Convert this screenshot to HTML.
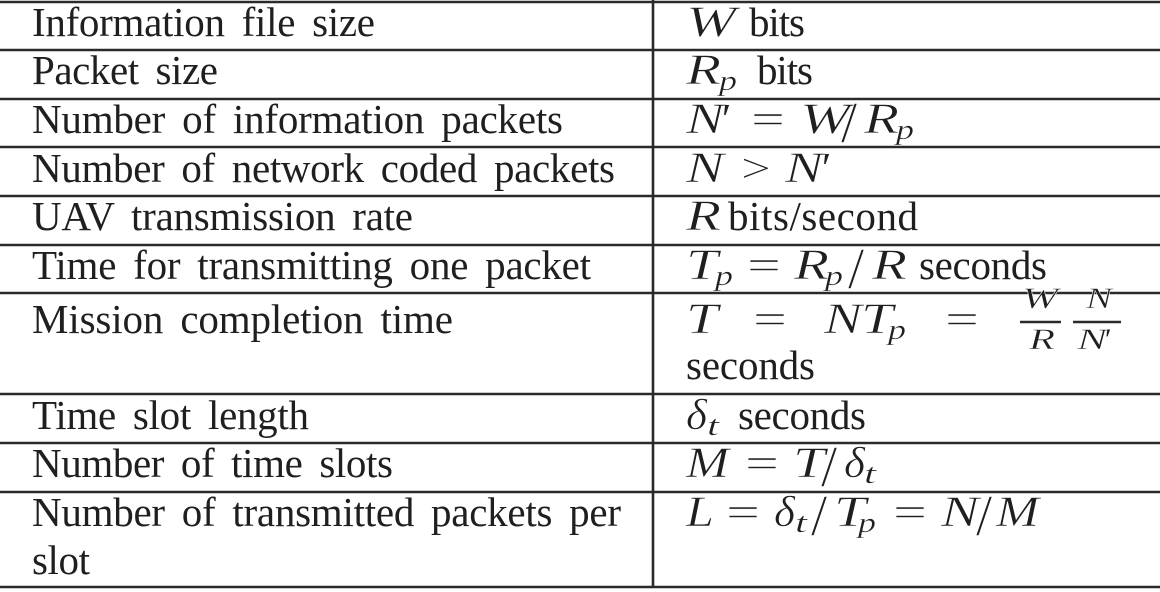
<!DOCTYPE html>
<html lang="en">
<head>
<meta charset="utf-8">
<title>Notation table</title>
<style>
html,body{margin:0;padding:0;background:#fff;width:1160px;height:592px;overflow:hidden}
svg{display:block}
text{font-family:"Liberation Serif",serif;font-size:41px;fill:#1f1f1f;word-spacing:7px}
.m{font-style:italic;font-size:43px;stroke:#fff;stroke-width:.55px}
.s{font-style:italic;font-size:29px;stroke:#fff;stroke-width:.35px}
.f{font-style:italic;font-size:30px;stroke:#fff;stroke-width:.4px}
.o{font-size:41px;stroke:#fff;stroke-width:.5px}
.sl{font-size:58px;stroke:#fff;stroke-width:.6px}
.pr{font-size:42px}
.prs{font-size:30px}
line{stroke:#2a2a2a;stroke-width:2.6}
</style>
</head>
<body>
<svg width="1160" height="592" viewBox="0 0 1160 592">
<g>
<line x1="0" x2="1160" y1="2" y2="2"/>
<line x1="0" x2="1160" y1="50" y2="50"/>
<line x1="0" x2="1160" y1="99" y2="99"/>
<line x1="0" x2="1160" y1="147" y2="147"/>
<line x1="0" x2="1160" y1="196" y2="196"/>
<line x1="0" x2="1160" y1="245" y2="245"/>
<line x1="0" x2="1160" y1="293" y2="293"/>
<line x1="0" x2="1160" y1="394" y2="394"/>
<line x1="0" x2="1160" y1="443" y2="443"/>
<line x1="0" x2="1160" y1="492" y2="492"/>
<line x1="0" x2="1160" y1="587" y2="587"/>
<line x1="653" x2="653" y1="0" y2="587"/>
</g>
<g>
<text x="32" y="36" textLength="343">Information file size</text>
<text x="32" y="84" textLength="186">Packet size</text>
<text x="32" y="133" textLength="531">Number of information packets</text>
<text x="32" y="182" textLength="583">Number of network coded packets</text>
<text x="32" y="230" textLength="381">UAV transmission rate</text>
<text x="32" y="279" textLength="559">Time for transmitting one packet</text>
<text x="32" y="333" textLength="421">Mission completion time</text>
<text x="32" y="429" textLength="277">Time slot length</text>
<text x="32" y="477" textLength="361">Number of time slots</text>
<text x="32" y="526" textLength="589">Number of transmitted packets per</text>
<text x="32" y="574" textLength="58">slot</text>
</g>
<g>
<text class="m" x="686" y="36" textLength="50" lengthAdjust="spacingAndGlyphs">W</text><text x="749" y="36" textLength="56">bits</text>
</g>
<g>
<text class="m" x="686" y="84" textLength="35" lengthAdjust="spacingAndGlyphs">R</text><text class="s" x="719" y="90" textLength="18" lengthAdjust="spacingAndGlyphs">p</text><text x="757" y="84" textLength="56">bits</text>
</g>
<g>
<text class="m" x="686" y="133" textLength="38" lengthAdjust="spacingAndGlyphs">N</text><text class="pr" x="722" y="133">′</text><text class="o" x="751" y="133" textLength="34" lengthAdjust="spacingAndGlyphs">=</text><text class="m" x="800" y="133" textLength="50" lengthAdjust="spacingAndGlyphs">W</text><text class="sl" x="841" y="142">/</text><text class="m" x="864" y="133" textLength="35" lengthAdjust="spacingAndGlyphs">R</text><text class="s" x="896" y="139" textLength="18" lengthAdjust="spacingAndGlyphs">p</text>
</g>
<g>
<text class="m" x="686" y="182" textLength="38" lengthAdjust="spacingAndGlyphs">N</text><text class="o" x="741" y="182" textLength="30" lengthAdjust="spacingAndGlyphs">&gt;</text><text class="m" x="785" y="182" textLength="38" lengthAdjust="spacingAndGlyphs">N</text><text class="pr" x="822" y="182">′</text>
</g>
<g>
<text class="m" x="686" y="230" textLength="35" lengthAdjust="spacingAndGlyphs">R</text><text x="728" y="230" textLength="190">bits/second</text>
</g>
<g>
<text class="m" x="686" y="279" textLength="32" lengthAdjust="spacingAndGlyphs">T</text><text class="s" x="715" y="285" textLength="18" lengthAdjust="spacingAndGlyphs">p</text><text class="o" x="747" y="279" textLength="34" lengthAdjust="spacingAndGlyphs">=</text><text class="m" x="794" y="279" textLength="35" lengthAdjust="spacingAndGlyphs">R</text><text class="s" x="825" y="285" textLength="18" lengthAdjust="spacingAndGlyphs">p</text><text class="sl" x="848" y="288">/</text><text class="m" x="872" y="279" textLength="35" lengthAdjust="spacingAndGlyphs">R</text><text x="919" y="279" textLength="128">seconds</text>
</g>
<g>
<text class="m" x="686" y="333" textLength="32" lengthAdjust="spacingAndGlyphs">T</text><text class="o" x="753" y="333" textLength="34" lengthAdjust="spacingAndGlyphs">=</text><text class="m" x="824" y="333" textLength="38" lengthAdjust="spacingAndGlyphs">N</text><text class="m" x="861" y="333" textLength="32" lengthAdjust="spacingAndGlyphs">T</text><text class="s" x="888" y="339" textLength="18" lengthAdjust="spacingAndGlyphs">p</text><text class="o" x="945" y="333" textLength="34" lengthAdjust="spacingAndGlyphs">=</text>
<text class="f" x="1022" y="308" textLength="36" lengthAdjust="spacingAndGlyphs">W</text><line x1="1020" x2="1061" y1="322" y2="322" stroke-width="2"/><text class="f" x="1029" y="349" textLength="26" lengthAdjust="spacingAndGlyphs">R</text>
<text class="f" x="1086" y="308" textLength="26" lengthAdjust="spacingAndGlyphs">N</text><line x1="1073" x2="1121" y1="322" y2="322" stroke-width="2"/><text class="f" x="1077" y="349" textLength="30" lengthAdjust="spacingAndGlyphs">N</text><text class="prs" x="1105" y="349">′</text>
<text x="686" y="379" textLength="129">seconds</text>
</g>
<g>
<text class="m" x="686" y="429" textLength="21" lengthAdjust="spacingAndGlyphs">δ</text><text class="s" x="707" y="435" textLength="12" lengthAdjust="spacingAndGlyphs">t</text><text x="738" y="429" textLength="128">seconds</text>
</g>
<g>
<text class="m" x="686" y="477" textLength="43" lengthAdjust="spacingAndGlyphs">M</text><text class="o" x="745" y="477" textLength="34" lengthAdjust="spacingAndGlyphs">=</text><text class="m" x="793" y="477" textLength="32" lengthAdjust="spacingAndGlyphs">T</text><text class="sl" x="821" y="486">/</text><text class="m" x="844" y="477" textLength="21" lengthAdjust="spacingAndGlyphs">δ</text><text class="s" x="864" y="483" textLength="12" lengthAdjust="spacingAndGlyphs">t</text>
</g>
<g>
<text class="m" x="686" y="526" textLength="28" lengthAdjust="spacingAndGlyphs">L</text><text class="o" x="726" y="526" textLength="34" lengthAdjust="spacingAndGlyphs">=</text><text class="m" x="774" y="526" textLength="21" lengthAdjust="spacingAndGlyphs">δ</text><text class="s" x="795" y="532" textLength="12" lengthAdjust="spacingAndGlyphs">t</text><text class="sl" x="811" y="535">/</text><text class="m" x="834" y="526" textLength="32" lengthAdjust="spacingAndGlyphs">T</text><text class="s" x="858" y="532" textLength="18" lengthAdjust="spacingAndGlyphs">p</text><text class="o" x="893" y="526" textLength="34" lengthAdjust="spacingAndGlyphs">=</text><text class="m" x="941" y="526" textLength="38" lengthAdjust="spacingAndGlyphs">N</text><text class="sl" x="976" y="535">/</text><text class="m" x="996" y="526" textLength="43" lengthAdjust="spacingAndGlyphs">M</text>
</g>
</svg>
</body>
</html>
